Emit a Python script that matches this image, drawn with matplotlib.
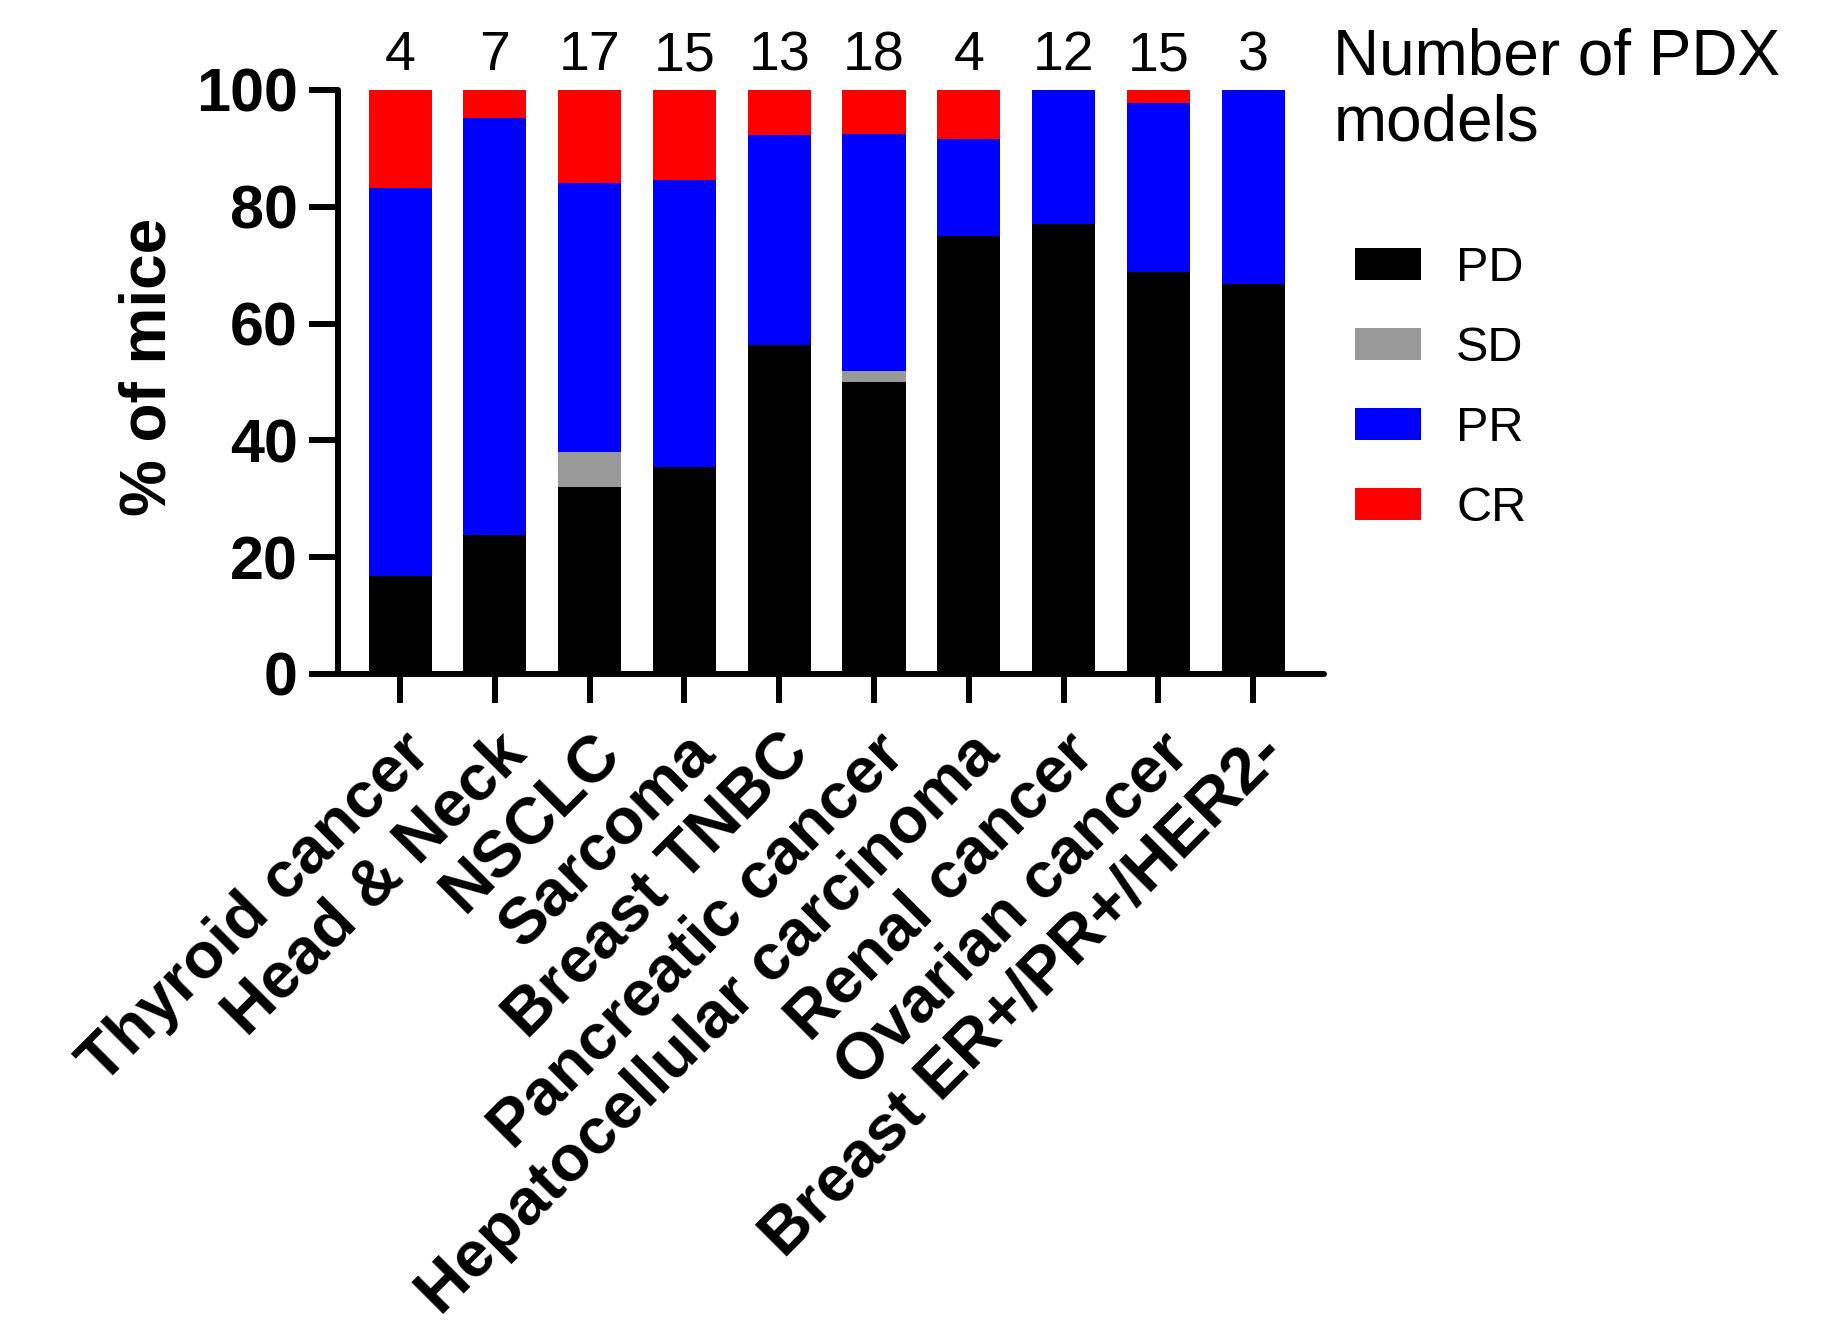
import matplotlib
matplotlib.use("Agg")
import matplotlib.pyplot as plt
import numpy as np

categories = ["Thyroid cancer", "Head & Neck", "NSCLC", "Sarcoma", "Breast TNBC",
              "Pancreatic cancer", "Hepatocellular carcinoma", "Renal cancer",
              "Ovarian cancer", "Breast ER+/PR+/HER2-"]
n_models = [4, 7, 17, 15, 13, 18, 4, 12, 15, 3]
pd_vals = [16.7, 23.8, 32.0, 35.5, 56.3, 50.0, 75.0, 77.1, 68.9, 66.7]
sd_vals = [0.0, 0.0, 6.0, 0.0, 0.0, 1.9, 0.0, 0.0, 0.0, 0.0]
pr_vals = [66.6, 71.4, 46.0, 49.0, 36.0, 40.6, 16.6, 22.9, 28.9, 33.3]
cr_vals = [16.7, 4.8, 16.0, 15.5, 7.7, 7.5, 8.4, 0.0, 2.2, 0.0]
series_names = ["PD", "SD", "PR", "CR"]
series_colors = ["#000000", "#999999", "#0000ff", "#ff0000"]

plt.rcParams['font.family'] = ['Liberation Sans', 'DejaVu Sans']

fig = plt.figure(figsize=(18.29, 13.33), dpi=100)
ax = fig.add_axes([0.1848, 0.4944, 0.724 - 0.1848, 0.9325 - 0.4944])

x = np.arange(len(categories))
width = 0.665
bottom = np.zeros(len(categories))
handles = []
for name, vals, col in zip(series_names, [pd_vals, sd_vals, pr_vals, cr_vals], series_colors):
    vals = np.array(vals)
    h = ax.bar(x, vals, width, bottom=bottom, color=col, label=name, linewidth=0)
    handles.append(h)
    bottom += vals

ax.set_xlim(-0.655, 9.75)
ax.set_ylim(0, 100)
ax.set_yticks([0, 20, 40, 60, 80, 100])
ax.set_xticks(x)
ax.set_xticklabels(categories, rotation=45, ha='right', va='top', rotation_mode='anchor',
                   fontsize=47, fontweight='bold')
for lbl in ax.get_yticklabels():
    lbl.set_fontsize(44)
    lbl.set_fontweight('bold')

for s in ['top', 'right']:
    ax.spines[s].set_visible(False)
for s in ['left', 'bottom']:
    ax.spines[s].set_linewidth(4.3)
    ax.spines[s].set_capstyle('round')
ax.tick_params(axis='both', direction='out', length=21, width=4.3, pad=8)
ax.tick_params(axis='x', pad=14)

ax.set_ylabel("% of mice", fontsize=46, fontweight='bold')
ax.yaxis.set_label_coords(-0.162, 0.526)

for xi, n in zip(x, n_models):
    ax.text(xi, 101.3, str(n), ha='center', va='bottom', fontsize=40, clip_on=False)

fig.text(0.729, 0.979, "Number of PDX\nmodels", ha='left', va='top', fontsize=46, linespacing=1.12)

leg = fig.legend(handles=handles, labels=series_names, loc='upper left',
                 bbox_to_anchor=(0.717, 0.848), frameon=False, fontsize=35,
                 handlelength=1.36, handleheight=0.64, labelspacing=0.72, handletextpad=0.72)

fig.savefig("out.png", dpi=100)
